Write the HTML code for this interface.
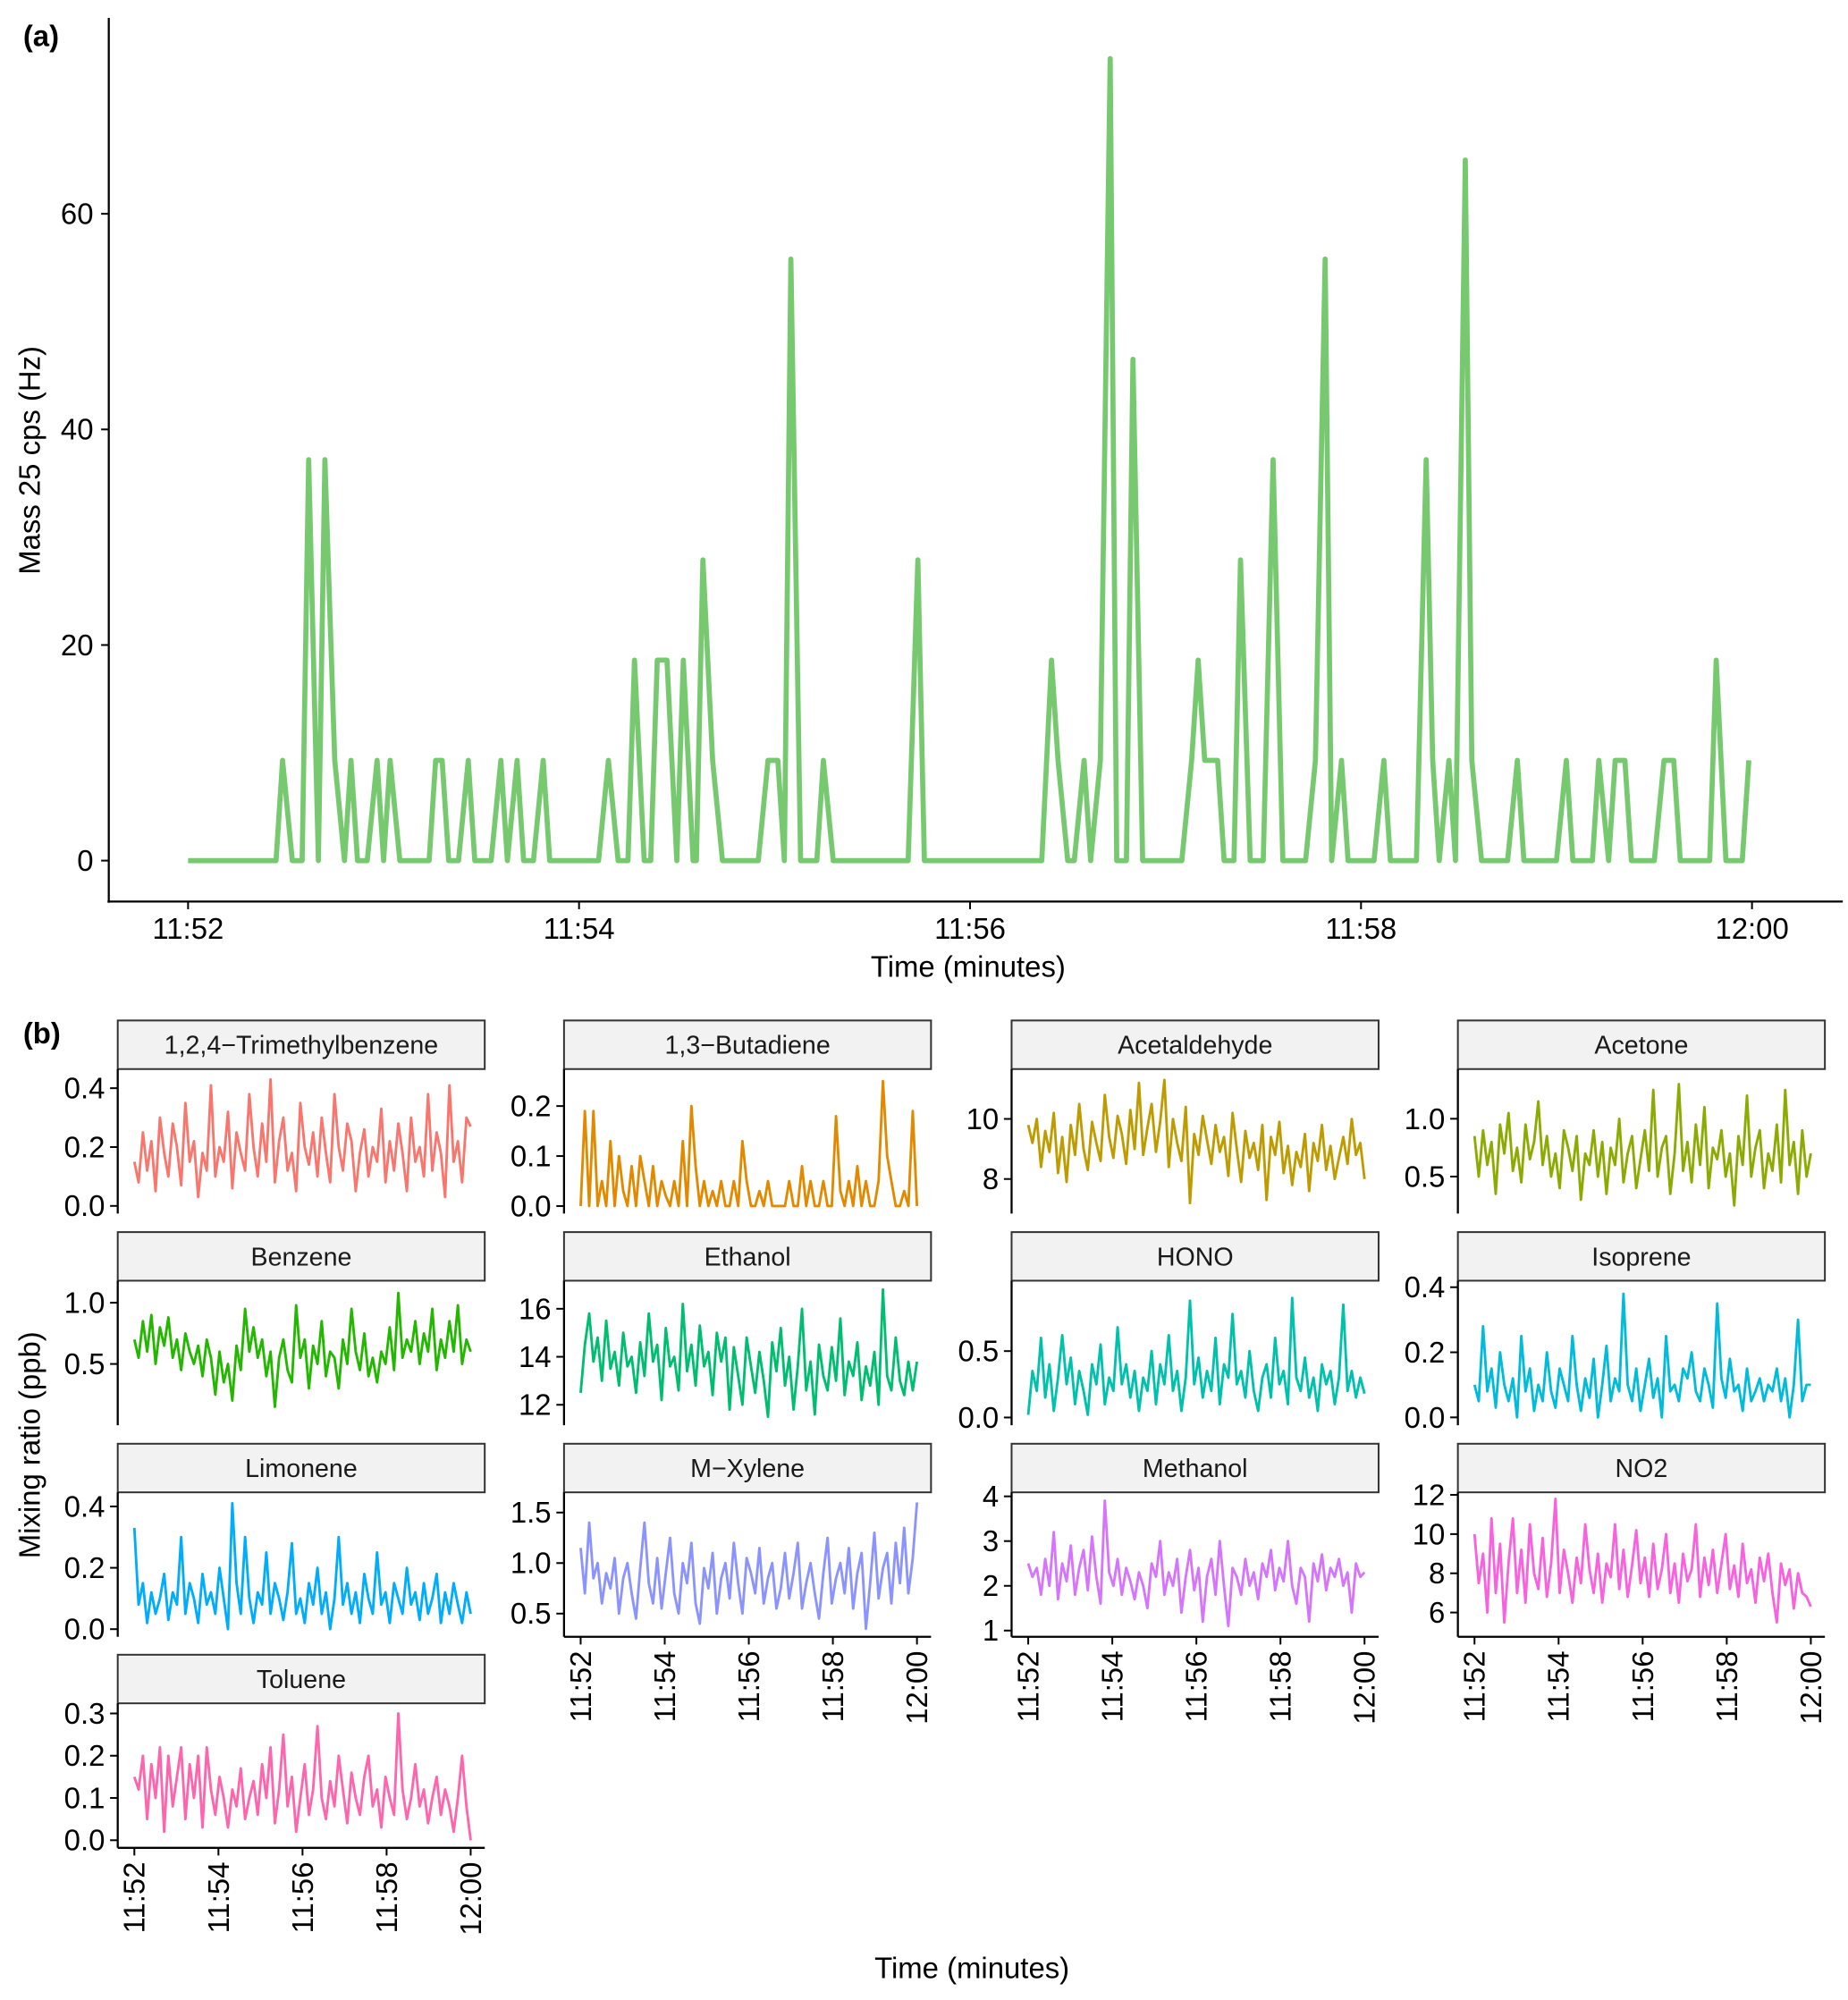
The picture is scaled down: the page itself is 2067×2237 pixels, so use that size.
<!DOCTYPE html>
<html><head><meta charset="utf-8"><style>
html,body{margin:0;padding:0;background:#fff;}
svg{display:block;font-family:"Liberation Sans",Arial,sans-serif;}
</style></head><body>
<svg id="fig" width="2067" height="2237" viewBox="0 0 1445 1564" xmlns="http://www.w3.org/2000/svg">
<rect width="1445" height="1564" fill="#fff"/>
<text x="18" y="36" font-size="23" font-weight="bold">(a)</text>
<text x="18" y="816" font-size="23" font-weight="bold">(b)</text>
<g id="topPlot"></g>
<g id="facets"></g>
<text x="757" y="764" font-size="23" text-anchor="middle">Time (minutes)</text>
<text transform="translate(31,360) rotate(-90)" font-size="23" text-anchor="middle">Mass 25 cps (Hz)</text>
<text transform="translate(31,1130) rotate(-90)" font-size="23" text-anchor="middle">Mixing ratio (ppb)</text>
<text x="760" y="1547" font-size="23" text-anchor="middle">Time (minutes)</text>
</svg>
<script>
// ---- Panel (a) data ----
const topTimesSec = [0,27,29,32,35,37,40,42,45,48,50,52,55,58,60,62,65,74,76,78,80,83,86,88,93,96,98,101,103,106,109,111,126,129,132,135,137,140,142,144,147,150,152,155,156,158,161,164,175,178,181,183,185,188,193,195,198,221,224,226,262,265,267,270,272,275,277,280,283,285,288,290,293,305,308,310,312,316,318,321,323,326,330,333,336,343,346,349,351,354,356,364,367,369,377,380,382,384,387,389,392,394,397,405,408,410,420,423,425,431,433,436,438,441,443,450,453,456,458,467,469,472,477,479];
const topValues = [0,0,9.3,0,0,37.2,0,37.2,9.3,0,9.3,0,0,9.3,0,9.3,0,0,9.3,9.3,0,0,9.3,0,0,9.3,0,9.3,0,0,9.3,0,0,9.3,0,0,18.6,0,0,18.6,18.6,0,18.6,0,0,27.9,9.3,0,0,9.3,9.3,0,55.8,0,0,9.3,0,0,27.9,0,0,18.6,9.3,0,0,9.3,0,9.3,74.4,0,0,46.5,0,0,9.3,18.6,9.3,9.3,0,0,27.9,0,0,37.2,0,0,9.3,55.8,0,9.3,0,0,9.3,0,0,37.2,9.3,0,9.3,0,65,9.3,0,0,9.3,0,0,9.3,0,0,9.3,0,9.3,9.3,0,0,9.3,9.3,0,0,18.6,0,0,9.3];
const topYTicks = [0,20,40,60];
const topXTickLabels = ["11:52","11:54","11:56","11:58","12:00"];
const topXTickMin = [0,2,4,6,8];

// ---- Panel (b) data ----
const facetNames = ["1,2,4\u2212Trimethylbenzene","1,3\u2212Butadiene","Acetaldehyde","Acetone","Benzene","Ethanol","HONO","Isoprene","Limonene","M\u2212Xylene","Methanol","NO2","Toluene"];
const facetColors = ["#F8766D","#E18A00","#BE9C00","#8CAB00","#24B700","#00BE70","#00C1AB","#00BBDA","#00ACFC","#8B93FF","#D575FE","#F962DD","#FF65AC"];
const facetDomains = [[-0.026,0.465],[-0.015,0.274],[6.85,11.66],[0.18,1.43],[0.0,1.18],[11.15,17.17],[-0.058,1.03],[-0.024,0.42],[-0.025,0.446],[0.27,1.70],[0.86,4.09],[4.76,12.13],[-0.018,0.324]];
const facetTicks = [[0,0.2,0.4],[0,0.1,0.2],[8,10],[0.5,1.0],[0.5,1.0],[12,14,16],[0,0.5],[0,0.2,0.4],[0,0.2,0.4],[0.5,1.0,1.5],[1,2,3,4],[6,8,10,12],[0,0.1,0.2,0.3]];
const facetTickDigits = [1,1,0,1,1,0,1,1,1,1,0,0,1];
const sTMB = [0.15,0.08,0.25,0.12,0.22,0.05,0.3,0.18,0.1,0.28,0.2,0.07,0.35,0.15,0.22,0.03,0.18,0.12,0.41,0.1,0.2,0.15,0.32,0.06,0.25,0.18,0.12,0.38,0.2,0.1,0.28,0.15,0.43,0.08,0.22,0.3,0.12,0.18,0.05,0.35,0.2,0.14,0.25,0.1,0.3,0.18,0.08,0.38,0.2,0.12,0.28,0.22,0.05,0.18,0.26,0.1,0.2,0.15,0.33,0.08,0.22,0.12,0.28,0.18,0.05,0.3,0.15,0.2,0.1,0.38,0.12,0.25,0.18,0.03,0.41,0.15,0.22,0.08,0.3,0.27];
const sBut = [0.0,0.19,0.0,0.19,0.0,0.05,0.0,0.13,0.0,0.1,0.03,0.0,0.08,0.0,0.1,0.05,0.0,0.08,0.0,0.05,0.02,0.0,0.05,0.0,0.13,0.0,0.2,0.08,0.0,0.05,0.0,0.03,0.0,0.05,0.0,0.0,0.05,0.0,0.13,0.05,0.0,0.0,0.03,0.0,0.05,0.0,0.0,0.0,0.0,0.05,0.0,0.0,0.08,0.0,0.05,0.0,0.0,0.05,0.0,0.0,0.18,0.03,0.0,0.05,0.0,0.08,0.0,0.05,0.0,0.0,0.05,0.25,0.1,0.05,0.0,0.0,0.03,0.0,0.19,0.0];
const sAcet = [9.8,9.2,10,8.4,9.6,8.9,10.2,8.2,9.4,7.9,9.8,8.8,10.5,9,8.3,9.9,9.2,8.6,10.8,9.4,8.7,10.1,9.5,8.5,10.3,9,11.2,8.8,9.7,10.5,8.9,9.9,11.3,8.4,10,9.2,8.6,10.4,7.2,9.5,8.8,10.1,9.3,8.5,9.8,8.9,9.4,8.1,10.2,9,7.9,9.6,8.7,9.2,8.3,9.8,7.3,9.4,8.8,9.9,8.2,9.1,7.8,8.9,8.4,9.5,7.6,9.2,8.6,9.8,8.3,9.1,8,8.7,9.4,8.5,10,8.8,9.2,8];
const sAceton = [0.85,0.5,0.9,0.6,0.8,0.35,0.95,0.7,1.05,0.55,0.75,0.45,0.95,0.65,0.8,1.15,0.6,0.85,0.5,0.7,0.4,0.9,0.75,0.55,0.85,0.3,0.7,0.6,0.9,0.5,0.8,0.35,0.75,0.6,1.0,0.45,0.7,0.85,0.4,0.65,0.9,0.55,1.25,0.5,0.75,0.85,0.35,0.7,1.3,0.55,0.8,0.45,0.95,0.6,1.1,0.4,0.75,0.65,0.9,0.5,0.7,0.25,0.85,0.6,1.2,0.5,0.75,0.9,0.4,0.7,0.55,0.95,0.45,1.25,0.6,0.8,0.35,0.9,0.5,0.7];
const sBenz = [0.7,0.55,0.85,0.6,0.9,0.5,0.8,0.65,0.88,0.55,0.7,0.45,0.75,0.6,0.5,0.65,0.4,0.7,0.55,0.25,0.6,0.35,0.5,0.2,0.65,0.45,0.95,0.6,0.8,0.55,0.7,0.4,0.6,0.15,0.55,0.7,0.45,0.35,0.98,0.55,0.7,0.3,0.65,0.5,0.85,0.4,0.6,0.55,0.3,0.7,0.5,0.95,0.6,0.45,0.75,0.4,0.55,0.35,0.6,0.5,0.8,0.45,1.08,0.55,0.7,0.6,0.85,0.5,0.75,0.6,0.95,0.45,0.7,0.55,0.85,0.6,0.98,0.5,0.7,0.6];
const sEth = [12.5,14.5,15.8,13.8,14.8,13,15.5,13.5,14.2,12.8,15,13.6,14,12.5,14.6,13.2,15.8,13.8,14.5,12.2,15.2,13.6,14,12.6,16.2,13.4,14.5,12.8,15.3,13.6,14.2,12.4,15,13.8,14.8,11.8,14.4,13.2,12,14.8,13.6,12.5,14.2,13,11.5,14.6,13.4,15.2,12.8,14,11.8,13.6,16,12.6,13.8,11.6,14.5,13.2,12.6,14.4,13,15.6,12.4,13.8,13.2,14.6,12.2,13.6,12.8,14.2,12,16.8,13.2,12.6,14.8,13,12.4,13.8,12.6,13.8];
const sHONO = [0.02,0.35,0.2,0.6,0.15,0.4,0.05,0.3,0.62,0.25,0.45,0.1,0.35,0.2,0.02,0.4,0.25,0.55,0.1,0.3,0.2,0.68,0.25,0.4,0.15,0.35,0.05,0.3,0.2,0.5,0.1,0.4,0.25,0.62,0.2,0.35,0.05,0.3,0.88,0.25,0.45,0.15,0.35,0.2,0.6,0.1,0.4,0.3,0.78,0.25,0.35,0.15,0.5,0.2,0.05,0.3,0.4,0.15,0.6,0.25,0.35,0.1,0.9,0.3,0.2,0.45,0.15,0.3,0.05,0.4,0.25,0.35,0.1,0.3,0.85,0.2,0.35,0.15,0.3,0.18];
const sIso = [0.1,0.05,0.28,0.08,0.15,0.03,0.2,0.1,0.05,0.12,0.0,0.25,0.08,0.15,0.02,0.1,0.05,0.2,0.08,0.03,0.15,0.1,0.05,0.25,0.1,0.02,0.12,0.06,0.18,0.0,0.1,0.22,0.05,0.12,0.08,0.38,0.1,0.05,0.15,0.02,0.1,0.18,0.06,0.12,0.0,0.25,0.08,0.1,0.05,0.15,0.12,0.2,0.08,0.05,0.15,0.1,0.03,0.35,0.12,0.06,0.18,0.08,0.1,0.02,0.15,0.05,0.08,0.12,0.05,0.1,0.08,0.15,0.05,0.12,0.0,0.1,0.3,0.05,0.1,0.1];
const sLim = [0.33,0.08,0.15,0.02,0.12,0.05,0.1,0.18,0.03,0.12,0.08,0.3,0.05,0.15,0.1,0.02,0.18,0.08,0.12,0.05,0.2,0.1,0.0,0.41,0.15,0.05,0.3,0.1,0.02,0.12,0.08,0.25,0.05,0.15,0.1,0.03,0.12,0.28,0.05,0.1,0.02,0.15,0.08,0.2,0.05,0.12,0.0,0.1,0.3,0.08,0.15,0.05,0.12,0.02,0.18,0.1,0.05,0.25,0.08,0.12,0.02,0.15,0.1,0.05,0.2,0.08,0.12,0.03,0.15,0.05,0.1,0.18,0.02,0.12,0.05,0.15,0.08,0.02,0.12,0.05];
const sMX = [1.15,0.7,1.4,0.85,1.0,0.6,0.9,0.75,1.05,0.5,0.85,1.0,0.7,0.45,0.95,1.4,0.8,0.6,1.05,0.55,0.9,1.25,0.7,0.5,1.0,0.8,1.2,0.6,0.4,0.95,0.75,1.1,0.5,0.85,1.0,0.65,1.2,0.8,0.5,1.05,0.9,0.7,1.15,0.6,0.85,1.0,0.55,0.75,1.1,0.65,0.9,1.2,0.55,0.8,1.0,0.7,0.45,0.9,1.25,0.6,0.85,1.0,0.7,1.15,0.55,0.9,1.1,0.35,0.8,1.3,0.65,0.95,1.1,0.6,1.2,0.8,1.35,0.7,1.05,1.6];
const sMeth = [2.5,2.2,2.4,1.8,2.6,2.0,3.2,1.7,2.5,2.1,2.9,1.8,2.4,2.8,1.9,3.1,2.2,1.6,3.9,2.3,2.0,2.6,1.8,2.4,2.1,1.7,2.3,2.0,1.5,2.5,2.2,3.0,1.8,2.3,2.0,2.6,1.4,2.2,2.8,1.9,2.4,1.2,2.2,2.6,1.8,3.0,2.0,1.1,2.4,2.2,1.8,2.6,2.0,2.3,1.7,2.5,2.2,2.8,1.9,2.4,2.1,3.0,2.0,1.6,2.4,2.2,1.2,2.5,2.1,2.7,1.9,2.4,2.2,2.6,2.0,2.3,1.4,2.5,2.2,2.3];
const sNO2 = [10,7.5,9,6,10.8,7,9.5,5.5,8.5,10.8,7,9.2,6.5,10.5,8,7.2,9.8,6.8,8.5,11.8,7,9.2,8,6.5,8.8,7.5,10.5,8.2,7,9,6.5,8.5,7.8,10.5,7.2,9.2,6.8,8.4,10.2,7.5,8.8,6.8,9.5,7.2,8.2,10,7,8.5,6.5,9,7.6,8.2,10.5,6.8,8.8,7.4,9.2,7,8.5,10,7.2,8.4,6.8,9.5,7.5,8.2,6.5,8.8,7.6,9,7,5.5,8.5,7.4,8.2,6.2,8,7,6.8,6.3];
const sTol = [0.15,0.12,0.2,0.05,0.18,0.1,0.22,0.02,0.2,0.08,0.15,0.22,0.05,0.18,0.1,0.2,0.03,0.22,0.12,0.06,0.15,0.1,0.03,0.12,0.08,0.17,0.05,0.1,0.14,0.06,0.18,0.1,0.22,0.04,0.12,0.25,0.08,0.15,0.02,0.1,0.18,0.06,0.12,0.27,0.1,0.05,0.14,0.08,0.2,0.12,0.04,0.16,0.1,0.06,0.15,0.2,0.08,0.12,0.03,0.15,0.1,0.06,0.3,0.12,0.05,0.1,0.18,0.08,0.12,0.04,0.1,0.15,0.06,0.12,0.08,0.02,0.1,0.2,0.08,0.0];
const facetSeries = [sTMB,sBut,sAcet,sAceton,sBenz,sEth,sHONO,sIso,sLim,sMX,sMeth,sNO2,sTol];

const NS = "http://www.w3.org/2000/svg";
function mk(parent, tag, attrs, text){
  const e = document.createElementNS(NS, tag);
  for (const k in attrs) e.setAttribute(k, attrs[k]);
  if (text !== undefined) e.textContent = text;
  parent.appendChild(e);
  return e;
}

// ---- Draw panel (a) ----
(function(){
  const g = document.getElementById('topPlot');
  const xScale = s => 147 + (s/480) * (1370-147);
  const yScale = v => 673 - v * 8.43;
  const pts = topTimesSec.map((t,i) => xScale(t).toFixed(1)+','+yScale(topValues[i]).toFixed(1)).join(' ');
  const line = mk(g,'polyline',{points:pts,fill:'none',stroke:'#77C970','stroke-width':4,'stroke-linejoin':'round'});
  
  
  const ya = mk(g,'line',{x1:85,y1:14,x2:85,y2:706,stroke:'#000','stroke-width':1.6});
  
  
  const xa = mk(g,'line',{x1:84,y1:705,x2:1441,y2:705,stroke:'#000','stroke-width':1.6});
  
  
  topYTicks.forEach(v => {
    const y = yScale(v);
    mk(g,'line',{x1:79,y1:y,x2:85,y2:y,stroke:'#000','stroke-width':1.4});
    const t = mk(g,'text',{x:73,y:y+8,'font-size':23,'text-anchor':'end'}, String(v));
    
    
  });
  topXTickMin.forEach((m,i) => {
    const x = xScale(m*60);
    mk(g,'line',{x1:x,y1:705,x2:x,y2:711,stroke:'#000','stroke-width':1.4});
    const t = mk(g,'text',{x:x,y:734,'font-size':23,'text-anchor':'middle'}, topXTickLabels[i]);
    
    
  });
})();

// ---- Draw panel (b) facets ----
(function(){
  const g = document.getElementById('facets');
  const colAxisX = [92, 441, 791, 1140];
  const stripTops = [798, 963.5, 1129, 1294];
  const panelW = 287;
  facetNames.forEach((name, k) => {
    const col = k % 4, row = Math.floor(k / 4);
    const ax = colAxisX[col];
    const top = stripTops[row] + 38;
    const bot = top + 113;
    const x0 = ax + 13, x1 = ax + 276;
    const dom = facetDomains[k];
    const yS = v => bot - (v - dom[0]) / (dom[1] - dom[0]) * (bot - top);
    const vals = facetSeries[k];
    const xS = i => x0 + (i / (vals.length - 1)) * (x1 - x0);
    const pg = mk(g,'g',{});
    
    
    const sr = mk(pg,'rect',{x:ax,y:stripTops[row],width:panelW,height:38,fill:'#F2F2F2',stroke:'#333','stroke-width':1.4});
    
    
    const st = mk(pg,'text',{x:ax+panelW/2,y:stripTops[row]+26,'font-size':20,'text-anchor':'middle',fill:'#1a1a1a'}, name);
    
    
    const pts = vals.map((v,i) => xS(i).toFixed(1)+','+yS(v).toFixed(1)).join(' ');
    const pl = mk(pg,'polyline',{points:pts,fill:'none',stroke:facetColors[k],'stroke-width':2,'stroke-linejoin':'round'});
    
    
    const yl = mk(pg,'line',{x1:ax,y1:top,x2:ax,y2:bot,stroke:'#000','stroke-width':1.6});
    
    
    facetTicks[k].forEach(v => {
      const y = yS(v);
      mk(pg,'line',{x1:ax-6,y1:y,x2:ax,y2:y,stroke:'#000','stroke-width':1.4});
      const t = mk(pg,'text',{x:ax-10,y:y+8,'font-size':23,'text-anchor':'end'}, v.toFixed(facetTickDigits[k]));
      
      
    });
    const isBottom = (k + 4 >= facetNames.length);
    if (isBottom) {
      const xl = mk(pg,'line',{x1:ax,y1:bot,x2:ax+panelW,y2:bot,stroke:'#000','stroke-width':1.6});
      
      
      topXTickMin.forEach((m,i) => {
        const x = x0 + (m/8) * (x1 - x0);
        mk(pg,'line',{x1:x,y1:bot,x2:x,y2:bot+6,stroke:'#000','stroke-width':1.4});
        const t = mk(pg,'text',{transform:`translate(${x+8},${bot+11}) rotate(-90)`,'font-size':23,'text-anchor':'end'}, topXTickLabels[i]);
        
        
      });
    }
  });
})();
</script>
</body></html>
